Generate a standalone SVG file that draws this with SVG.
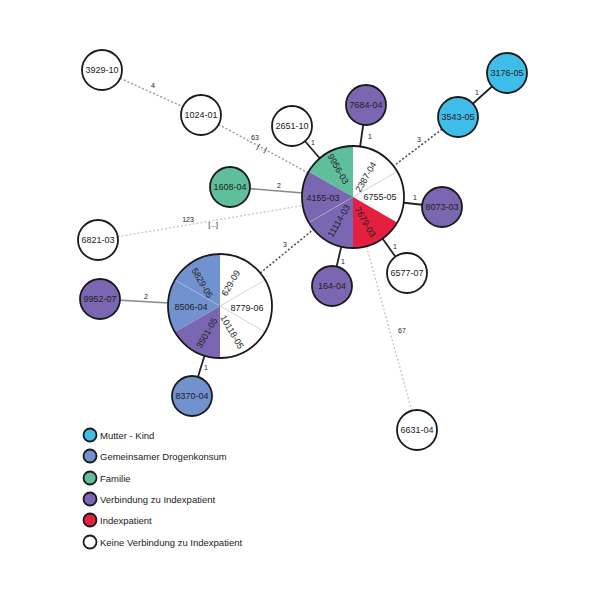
<svg xmlns="http://www.w3.org/2000/svg" width="607" height="600" viewBox="0 0 607 600">
<style>
text{font-family:"Liberation Sans",Arial,sans-serif;fill:#222}
.nl{font-size:9px;text-anchor:middle;dominant-baseline:central}
.el{font-size:7px;text-anchor:middle;dominant-baseline:central}
.lg{font-size:9.5px;dominant-baseline:central}
.n{stroke:#1a1a1a;stroke-width:1.8}
.w{fill:#fff}.c{fill:#3dbde8}.b{fill:#7191cf}.t{fill:#5fbf9d}.p{fill:#7b66b2}.r{fill:#e51f3f}
.solid{stroke:#222;stroke-width:1.8;fill:none}
.gsolid{stroke:#888;stroke-width:1.6;fill:none}
.ddot{stroke:#444;stroke-width:1.5;stroke-dasharray:2 2;fill:none}
.mdot{stroke:#999;stroke-width:1.4;stroke-dasharray:2 2;fill:none}
.ldot{stroke:#c8c8c8;stroke-width:1.4;stroke-dasharray:2 2;fill:none}
.div{stroke:#d0d0d0;stroke-width:0.9}
</style>
<rect width="607" height="600" fill="#fff"/>
<g id="connectors">
<line class="mdot" x1="102" y1="70" x2="201" y2="115"/>
<line class="mdot" x1="201" y1="115" x2="353" y2="197"/>
<line class="solid" x1="292" y1="126" x2="353" y2="197"/>
<line class="gsolid" x1="230" y1="187" x2="353" y2="197"/>
<line class="ldot" x1="98" y1="240" x2="353" y2="197"/>
<line class="ddot" x1="220" y1="306" x2="353" y2="197"/>
<line class="solid" x1="366" y1="105" x2="353" y2="197"/>
<line class="ddot" x1="458" y1="117" x2="353" y2="197"/>
<line class="solid" x1="507" y1="73" x2="458" y2="117"/>
<line class="solid" x1="442" y1="207" x2="353" y2="197"/>
<line class="solid" x1="407" y1="273" x2="353" y2="197"/>
<line class="solid" x1="332" y1="286" x2="353" y2="197"/>
<line class="ldot" x1="417" y1="430" x2="353" y2="197"/>
<line class="gsolid" x1="100" y1="299" x2="220" y2="306"/>
<line class="solid" x1="192" y1="396" x2="220" y2="306"/>
<text class="el" x="153" y="85">4</text>
<text class="el" x="255" y="137">63</text>
<text class="el" x="262" y="148" transform="rotate(28 262 148)">[...]</text>
<text class="el" x="313" y="142">1</text>
<text class="el" x="279" y="185">2</text>
<text class="el" x="188" y="219">123</text>
<text class="el" x="213" y="224">[...]</text>
<text class="el" x="285" y="244">3</text>
<text class="el" x="370" y="136">1</text>
<text class="el" x="419" y="139">3</text>
<text class="el" x="477" y="92">1</text>
<text class="el" x="415" y="197">1</text>
<text class="el" x="395" y="246">1</text>
<text class="el" x="343" y="261">1</text>
<text class="el" x="402" y="330">67</text>
<text class="el" x="146" y="296">2</text>
<text class="el" x="206" y="367">1</text>
</g>
<g id="cluster-1">
<path class="w" d="M353 197 L353 146 A51 51 0 0 1 397.17 171.5 Z"/>
<path class="w" d="M353 197 L397.17 171.5 A51 51 0 0 1 397.17 222.5 Z"/>
<path class="r" d="M353 197 L397.17 222.5 A51 51 0 0 1 353 248 Z"/>
<path class="p" d="M353 197 L353 248 A51 51 0 0 1 308.83 222.5 Z"/>
<path class="p" d="M353 197 L308.83 222.5 A51 51 0 0 1 308.83 171.5 Z"/>
<path class="t" d="M353 197 L308.83 171.5 A51 51 0 0 1 353 146 Z"/>
<line class="div" x1="353" y1="197" x2="397.17" y2="171.5"/>
<line class="div" x1="353" y1="197" x2="308.83" y2="222.5" opacity="0.5"/>
<circle cx="353" cy="197" r="51" fill="none" class="n" stroke-width="2"/>
<text class="nl" x="338" y="169" transform="rotate(60 338 169)">9956-03</text>
<text class="nl" x="366" y="177" transform="rotate(-60 366 177)">2387-04</text>
<text class="nl" x="380" y="197">6755-05</text>
<text class="nl" x="365" y="222" transform="rotate(60 365 222)">7679-03</text>
<text class="nl" x="339" y="221" transform="rotate(-60 339 221)">11114-03</text>
<text class="nl" x="323" y="198">4155-03</text>
</g>
<g id="cluster-2">
<path class="w" d="M220 306 L220 254 A52 52 0 0 1 265.03 280 Z"/>
<path class="w" d="M220 306 L265.03 280 A52 52 0 0 1 265.03 332 Z"/>
<path class="w" d="M220 306 L265.03 332 A52 52 0 0 1 220 358 Z"/>
<path class="p" d="M220 306 L220 358 A52 52 0 0 1 174.97 332 Z"/>
<path class="b" d="M220 306 L174.97 332 A52 52 0 0 1 174.97 280 Z"/>
<path class="b" d="M220 306 L174.97 280 A52 52 0 0 1 220 254 Z"/>
<line class="div" x1="220" y1="306" x2="265.03" y2="280"/>
<line class="div" x1="220" y1="306" x2="265.03" y2="332"/>
<line class="div" x1="220" y1="306" x2="174.97" y2="280" opacity="0.5"/>
<circle cx="220" cy="306" r="52" fill="none" class="n" stroke-width="2"/>
<text class="nl" x="202" y="283" transform="rotate(60 202 283)">5829-05</text>
<text class="nl" x="231" y="283" transform="rotate(-60 231 283)">629-09</text>
<text class="nl" x="247" y="308">8779-06</text>
<text class="nl" x="232" y="332" transform="rotate(60 232 332)">10118-05</text>
<text class="nl" x="191" y="307">8506-04</text>
<text class="nl" x="207" y="333" transform="rotate(-60 207 333)">3501-05</text>
</g>
<g id="n3929-10"><circle class="n w" cx="102" cy="70" r="20"/><text class="nl" x="102" y="70">3929-10</text></g>
<g id="n1024-01"><circle class="n w" cx="201" cy="115" r="20"/><text class="nl" x="201" y="115">1024-01</text></g>
<g id="n2651-10"><circle class="n w" cx="292" cy="126" r="20"/><text class="nl" x="292" y="126">2651-10</text></g>
<g id="n1608-04"><circle class="n t" cx="230" cy="187" r="20"/><text class="nl" x="230" y="187">1608-04</text></g>
<g id="n6821-03"><circle class="n w" cx="98" cy="240" r="20"/><text class="nl" x="98" y="240">6821-03</text></g>
<g id="n7684-04"><circle class="n p" cx="366" cy="105" r="20"/><text class="nl" x="366" y="105">7684-04</text></g>
<g id="n3176-05"><circle class="n c" cx="507" cy="73" r="20"/><text class="nl" x="507" y="73">3176-05</text></g>
<g id="n3543-05"><circle class="n c" cx="458" cy="117" r="20"/><text class="nl" x="458" y="117">3543-05</text></g>
<g id="n8073-03"><circle class="n p" cx="442" cy="207" r="20"/><text class="nl" x="442" y="207">8073-03</text></g>
<g id="n6577-07"><circle class="n w" cx="407" cy="273" r="20"/><text class="nl" x="407" y="273">6577-07</text></g>
<g id="n164-04"><circle class="n p" cx="332" cy="286" r="20"/><text class="nl" x="332" y="286">164-04</text></g>
<g id="n6631-04"><circle class="n w" cx="417" cy="430" r="20"/><text class="nl" x="417" y="430">6631-04</text></g>
<g id="n9952-07"><circle class="n p" cx="100" cy="299" r="20"/><text class="nl" x="100" y="299">9952-07</text></g>
<g id="n8370-04"><circle class="n b" cx="192" cy="396" r="20"/><text class="nl" x="192" y="396">8370-04</text></g>
<g id="legend">
<circle class="n c" cx="90" cy="435" r="6.5" stroke-width="1.4"/><text class="lg" x="100" y="435">Mutter - Kind</text>
<circle class="n b" cx="90" cy="456" r="6.5" stroke-width="1.4"/><text class="lg" x="100" y="456">Gemeinsamer Drogenkonsum</text>
<circle class="n t" cx="90" cy="478" r="6.5" stroke-width="1.4"/><text class="lg" x="100" y="478">Familie</text>
<circle class="n p" cx="90" cy="499" r="6.5" stroke-width="1.4"/><text class="lg" x="100" y="499">Verbindung zu Indexpatient</text>
<circle class="n r" cx="90" cy="520" r="6.5" stroke-width="1.4"/><text class="lg" x="100" y="520">Indexpatient</text>
<circle class="n w" cx="90" cy="542" r="6.5" stroke-width="1.4"/><text class="lg" x="100" y="542">Keine Verbindung zu Indexpatient</text>
</g>
</svg>
